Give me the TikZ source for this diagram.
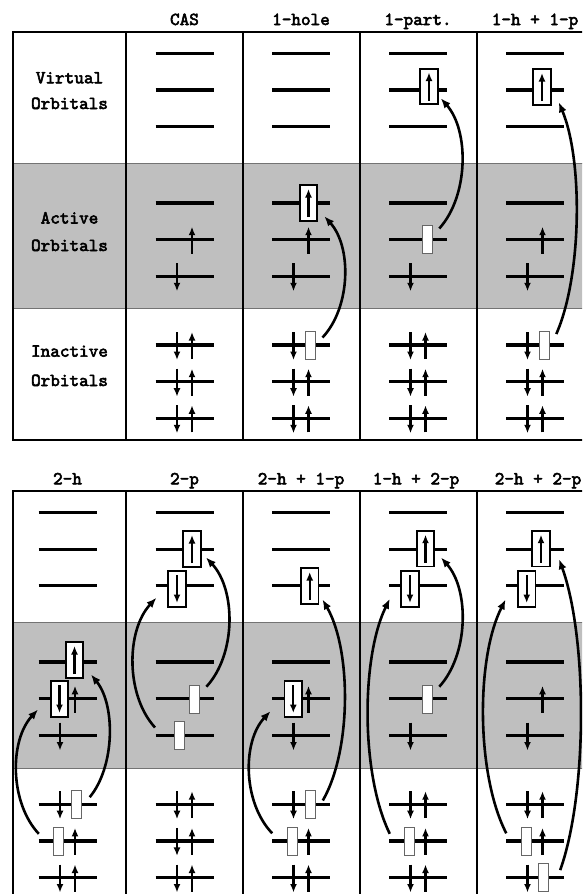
\documentclass[tikz,border=0pt]{standalone}
\usepackage{fontspec}
\setmonofont{lmmono10-regular}[Extension=.otf,AutoFakeBold=3]
\usetikzlibrary{calc,arrows.meta}
\newcommand\eup[2]{\draw[elec] (#1,#2+14) -- (#1,#2-13);}
\newcommand\edn[2]{\draw[elec] (#1,#2-13) -- (#1,#2+15);}
\newcommand\epair[2]{\edn{#1-7.5}{#2}\eup{#1+7.5}{#2}}
\newcommand\pup[3]{\node[partbox] (#1) at (#2,#3) {};\draw[elec] (#2,#3+14) -- (#2,#3-14);}
\newcommand\pdn[3]{\node[partbox] (#1) at (#2,#3) {};\draw[elec] (#2,#3-14) -- (#2,#3+14);}
\newcommand\exarc[3]{\draw[exc] (#1) .. controls ($(#1)!0.25!(#2)+(#3,0)$) and ($(#1)!0.75!(#2)+(#3,0)$) .. (#2);}
\begin{document}
\begin{tikzpicture}[x=1pt,y=-1pt,
  orb/.style={line width=3.2pt},
  elec/.style={line width=2.2pt,-{Latex[length=8.5pt,width=7pt]}},
  holebox/.style={draw=black!60,line width=0.9pt,fill=white,minimum width=10pt,minimum height=28pt,inner sep=0pt,outer sep=0pt},
  partbox/.style={draw=black,line width=1.8pt,fill=white,minimum width=17.5pt,minimum height=35.5pt,inner sep=0pt,outer sep=0pt},
  exc/.style={line width=2.6pt,-{Latex[length=10pt,width=8pt]}},
  lbl/.style={font=\ttfamily\bfseries\fontsize{18.3}{18}\selectfont,anchor=base,inner sep=0pt},
  gridline/.style={line width=2pt},
  sepline/.style={draw=black!55,line width=0.8pt},
  shade/.style={fill=black!25}]
\clip (0,0) rectangle (582,894);
\fill[white] (0,0) rectangle (582,894);
% shading
\fill[shade] (13,163) rectangle (593,308);
\fill[shade] (13,622.7) rectangle (593,768);
\draw[sepline] (13,163) -- (593,163);
\draw[sepline] (13,308) -- (593,308);
\draw[sepline] (13,622.7) -- (593,622.7);
\draw[sepline] (13,768) -- (593,768);
% orbital lines
\foreach \c in {184.5,301,418,535}{
  \foreach \y in {53.3,90,126.7,203,239.7,276.3,345,381.7,418.3}{
    \draw[orb] (\c-29,\y) -- (\c+29,\y);}}
\foreach \c in {67.5,184.5,301,418,535}{
  \foreach \y in {512.5,549.2,585.8,662,698.8,735.5,804.2,840.9,877.5}{
    \draw[orb] (\c-29,\y) -- (\c+29,\y);}}
% ---------- top table ----------
% CAS
\eup{192}{239.7}\edn{177}{276.3}
\epair{184.5}{345}\epair{184.5}{381.7}\epair{184.5}{418.3}
% 1-hole
\eup{308.5}{239.7}\edn{293.5}{276.3}
\edn{293.5}{345}\node[holebox] (H1) at (310.5,345.5) {};
\epair{301}{381.7}\epair{301}{418.3}
\pup{P1}{308.5}{203}
% 1-part.
\node[holebox] (H2) at (427.3,239.5) {};
\edn{410.5}{276.3}
\epair{418}{345}\epair{418}{381.7}\epair{418}{418.3}
\pup{P2}{429}{86.5}
% 1-h + 1-p
\eup{542.5}{239.7}\edn{527.5}{276.3}
\edn{527.5}{345}\node[holebox] (H3) at (544.3,345) {};
\epair{535}{381.7}\epair{535}{418.3}
\pup{P3}{542}{87}
% ---------- bottom table ----------
% 2-h
\pup{Pu4}{74.5}{660}
\eup{75}{698.8}\pdn{Pd4}{59.5}{699}
\edn{60}{735.5}
\edn{60}{804.2}\node[holebox] (Hu4) at (76.7,804.5) {};
\eup{75}{840.9}\node[holebox] (Hd4) at (58.3,841.3) {};
\epair{67.5}{877.5}
% 2-p
\pup{Pu5}{192}{549}
\pdn{Pd5}{177}{589}
\node[holebox] (Hu5) at (194,699) {};
\node[holebox] (Hd5) at (179,735.5) {};
\epair{184.5}{804.2}\epair{184.5}{840.9}\epair{184.5}{877.5}
% 2-h + 1-p
\pup{Pu6}{309.7}{586}
\eup{308.5}{698.8}\pdn{Pd6}{293.3}{699}
\edn{293.5}{735.5}
\edn{293.5}{804.2}\node[holebox] (Hu6) at (310.5,804.5) {};
\eup{308.5}{840.9}\node[holebox] (Hd6) at (292.2,841.3) {};
\epair{301}{877.5}
% 1-h + 2-p
\pup{Pu7}{425.5}{548.7}
\pdn{Pd7}{410}{589}
\node[holebox] (Hu7) at (427,699) {};
\edn{410.5}{735.5}
\epair{418}{804.2}
\eup{425.5}{840.9}\node[holebox] (Hd7) at (409.5,841.3) {};
\epair{418}{877.5}
% 2-h + 2-p
\pup{Pu8}{541}{548.7}
\pdn{Pd8}{526.7}{589}
\eup{542.5}{698.8}\edn{527.5}{735.5}
\epair{535}{804.2}
\eup{542.5}{840.9}\node[holebox] (Hd8) at (526,841.3) {};
\edn{527.5}{877.5}\node[holebox] (Hu8) at (543.8,877.5) {};
% ---------- excitation arrows ----------
\coordinate (a1s) at ($(H1.north east)+(7,6)$);
\coordinate (a1e) at ($(P1.south east)+(7,-4.5)$);
\coordinate (a2s) at ($(H2.north east)+(7,3)$);
\coordinate (a2e) at ($(P2.south east)+(3,-6)$);
\coordinate (a3s) at ($(H3.north east)+(7,3)$);
\coordinate (a3e) at ($(P3.south east)+(8,-2.5)$);
\exarc{a1s}{a1e}{28}
\exarc{a2s}{a2e}{29}
\exarc{a3s}{a3e}{25}
\coordinate (b1s) at ($(Hd4.north west)+(-14.5,6.5)$);
\coordinate (b1e) at ($(Pd4.south west)+(-12.7,-7.3)$);
\coordinate (b2s) at ($(Hu4.north east)+(8,6.7)$);
\coordinate (b2e) at ($(Pu4.south east)+(7.7,-3.3)$);
\coordinate (b3s) at ($(Hd5.north west)+(-19,6)$);
\coordinate (b3e) at ($(Pd5.south west)+(-11.8,-9)$);
\coordinate (b4s) at ($(Hu5.north east)+(7.4,1.7)$);
\coordinate (b4e) at ($(Pu5.south east)+(5.2,-9.4)$);
\coordinate (b5s) at ($(Hd6.north west)+(-15,6)$);
\coordinate (b5e) at ($(Pd6.south west)+(-14,-5.6)$);
\coordinate (b6s) at ($(Hu6.north east)+(7.3,10)$);
\coordinate (b6e) at ($(Pu6.south east)+(4,-4.3)$);
\coordinate (b7s) at ($(Hd7.north west)+(-14.7,6.5)$);
\coordinate (b7e) at ($(Pd7.south west)+(-11.4,-8)$);
\coordinate (b8s) at ($(Hu7.north east)+(7.3,1.7)$);
\coordinate (b8e) at ($(Pu7.south east)+(6.7,-9)$);
\coordinate (b9s) at ($(Hd8.north west)+(-14.7,6)$);
\coordinate (b9e) at ($(Pd8.south west)+(-12.3,-7.3)$);
\coordinate (b10s) at ($(Hu8.north east)+(11.4,6.6)$);
\coordinate (b10e) at ($(Pu8.south east)+(9.3,-7.3)$);
\exarc{b1s}{b1e}{-29}
\exarc{b2s}{b2e}{25}
\exarc{b3s}{b3e}{-30}
\exarc{b4s}{b4e}{30}
\exarc{b5s}{b5e}{-29}
\exarc{b6s}{b6e}{29}
\exarc{b7s}{b7e}{-29}
\exarc{b8s}{b8e}{29}
\exarc{b9s}{b9e}{-30}
\exarc{b10s}{b10e}{28}
% ---------- grid ----------
\draw[gridline] (593,32) -- (13,32) -- (13,440) -- (593,440);
\foreach \x in {126,243,359.5,476.5}{\draw[gridline] (\x,32) -- (\x,440);}
\draw[gridline] (593,491) -- (13,491) -- (13,900);
\foreach \x in {126,243,359.5,476.5}{\draw[gridline] (\x,491) -- (\x,900);}
% ---------- texts ----------
\node[lbl] (hCAS) at (184.5,25) {CAS};
\node[lbl] (h1h) at (301,25) {1-hole};
\node[lbl] (h1p) at (418,25) {1-part.};
\node[lbl] (h1h1p) at (535,25) {1-h + 1-p};
\node[lbl] (h2h) at (67.5,484.3) {2-h};
\node[lbl] (h2p) at (184.5,484.3) {2-p};
\node[lbl] (h2h1p) at (301,484.3) {2-h + 1-p};
\node[lbl] (h1h2p) at (416,484.3) {1-h + 2-p};
\node[lbl] (h2h2p) at (538,484.3) {2-h + 2-p};
\node[lbl] (lv1) at (69.5,83.3) {Virtual};
\node[lbl] (lv2) at (69.5,109) {Orbitals};
\node[lbl] (la1) at (69.5,223.5) {Active};
\node[lbl] (la2) at (69.5,251) {Orbitals};
\node[lbl] (li1) at (69.5,356.7) {Inactive};
\node[lbl] (li2) at (69.5,386) {Orbitals};
\end{tikzpicture}
\end{document}
